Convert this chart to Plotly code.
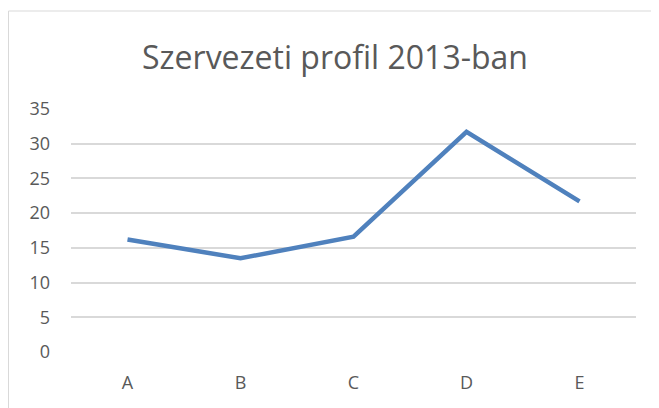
import plotly.graph_objects as go

categories = ["A", "B", "C", "D", "E"]
values = [16.2, 13.5, 16.6, 31.7, 21.7]
y_ticks = [0, 5, 10, 15, 20, 25, 30, 35]

# page has an 8px body margin; size the figure so it fits the 659x408 window
OFF = 8
W, H = 659 - OFF, 408 - OFF
ml = 71 - OFF
mt = 109 - OFF
mr = W - (636 - OFF)
mb = H - (352 - OFF)
pw, ph = W - ml - mr, H - mt - mb

fig = go.Figure()
fig.add_trace(go.Scatter(
    x=categories, y=values, mode="lines",
    line=dict(color="#4F81BD", width=4.5),
    showlegend=False, hoverinfo="skip",
))

# outer chart border
bx0, bx1, by_top = 0.5, 655 - OFF, 11 - OFF
fig.add_shape(type="rect", xref="paper", yref="paper",
              x0=(bx0 - ml) / pw, x1=(bx1 - ml) / pw,
              y0=-(mb + 20) / ph, y1=(H - mb - by_top) / ph,
              line=dict(color="#D9D9D9", width=1), layer="below")

fig.update_layout(
    width=W, height=H,
    margin=dict(l=ml, r=mr, t=mt, b=mb),
    paper_bgcolor="white", plot_bgcolor="white",
    title=dict(text="Szervezeti profil 2013-ban", x=(335 - OFF) / W, xanchor="center",
               y=1 - (58 - OFF) / H, yanchor="middle",
               font=dict(family="Open Sans", size=32, color="#595959")),
    font=dict(family="Open Sans", color="#595959", size=18),
    xaxis=dict(type="category", range=[-0.5, 4.5], showgrid=False, zeroline=False,
               showline=False, ticks="",
               tickfont=dict(size=18, color="#595959"), ticklabelstandoff=18),
    yaxis=dict(range=[0, 35], tickvals=y_ticks, showgrid=True,
               gridcolor="#D9D9D9", gridwidth=1.5, zeroline=False,
               showline=False, ticks="",
               tickfont=dict(size=18, color="#595959"), ticklabelstandoff=20),
)

fig.write_html("out.html")
